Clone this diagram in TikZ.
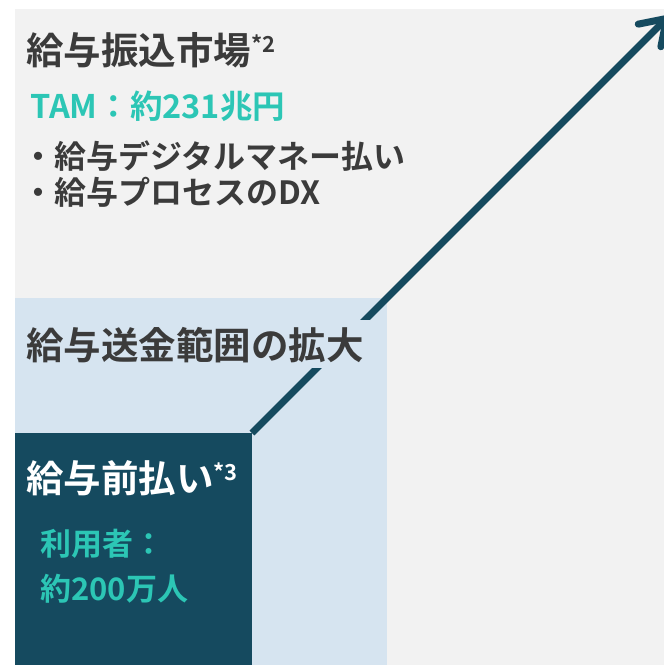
\documentclass[tikz,border=0pt]{standalone}
\usepackage{fontspec}
\setmainfont{Noto Sans CJK JP}[BoldFont={Noto Sans CJK JP Bold}]
\usepackage{xcolor}
\usetikzlibrary{arrows.meta}
\definecolor{bggray}{HTML}{F2F2F2}
\definecolor{paleblue}{HTML}{D6E4F0}
\definecolor{deepteal}{HTML}{154A5F}
\definecolor{mint}{HTML}{2CC6B5}
\definecolor{inkgray}{HTML}{3B3B3B}
\tikzset{
	headtext/.style={anchor=base west,inner sep=0pt,font=\bfseries\fontsize{37.5}{37.5}\selectfont},
	bodytext/.style={anchor=base west,inner sep=0pt,font=\bfseries\fontsize{31}{31}\selectfont},
	listtext/.style={anchor=base west,inner sep=0pt,font=\bfseries\fontsize{32}{32}\selectfont},
}
\newcommand{\notemark}[1]{\raisebox{12pt}{\fontsize{22}{22}\selectfont *#1}}

\begin{document}
\begin{tikzpicture}[x=1pt,y=-1pt]
		\useasboundingbox (0,0) rectangle (664,665);
		\fill[bggray] (15,9) rectangle (664,665);
		\fill[paleblue] (15,298) rectangle (387,665);
		\coordinate (corner) at (252,433);
		\coordinate (tip) at (669,16);
		\draw[deepteal,line width=7pt,-{Straight Barb[length=24pt,width=32pt,round]}] (corner) -- (tip);
		\fill[deepteal] (15,433) rectangle (252,665);
		\node[headtext,text=inkgray] (market) at (26,64) {給与振込市場\notemark{2}};
		\node[bodytext,text=mint,font=\bfseries\fontsize{32.5}{32.5}\selectfont] (tam) at (30,118) {TAM：約231兆円};
		\node[listtext,text=inkgray] (item1) at (22,168) {・給与デジタルマネー払い};
		\node[listtext,text=inkgray] (item2) at (22,204) {・給与プロセスのDX};
		\node[headtext,text=inkgray,fill=paleblue,inner xsep=10pt,text height=39pt,text depth=9pt] (range) at (16,359) {給与送金範囲の拡大};
		\node[headtext,text=white] (prepay) at (26,492) {給与前払い\notemark{3}};
		\node[bodytext,text=mint] (users) at (40,555) {利用者：};
		\node[bodytext,text=mint] (count) at (40,600) {約200万人};
	\end{tikzpicture}
\end{document}
